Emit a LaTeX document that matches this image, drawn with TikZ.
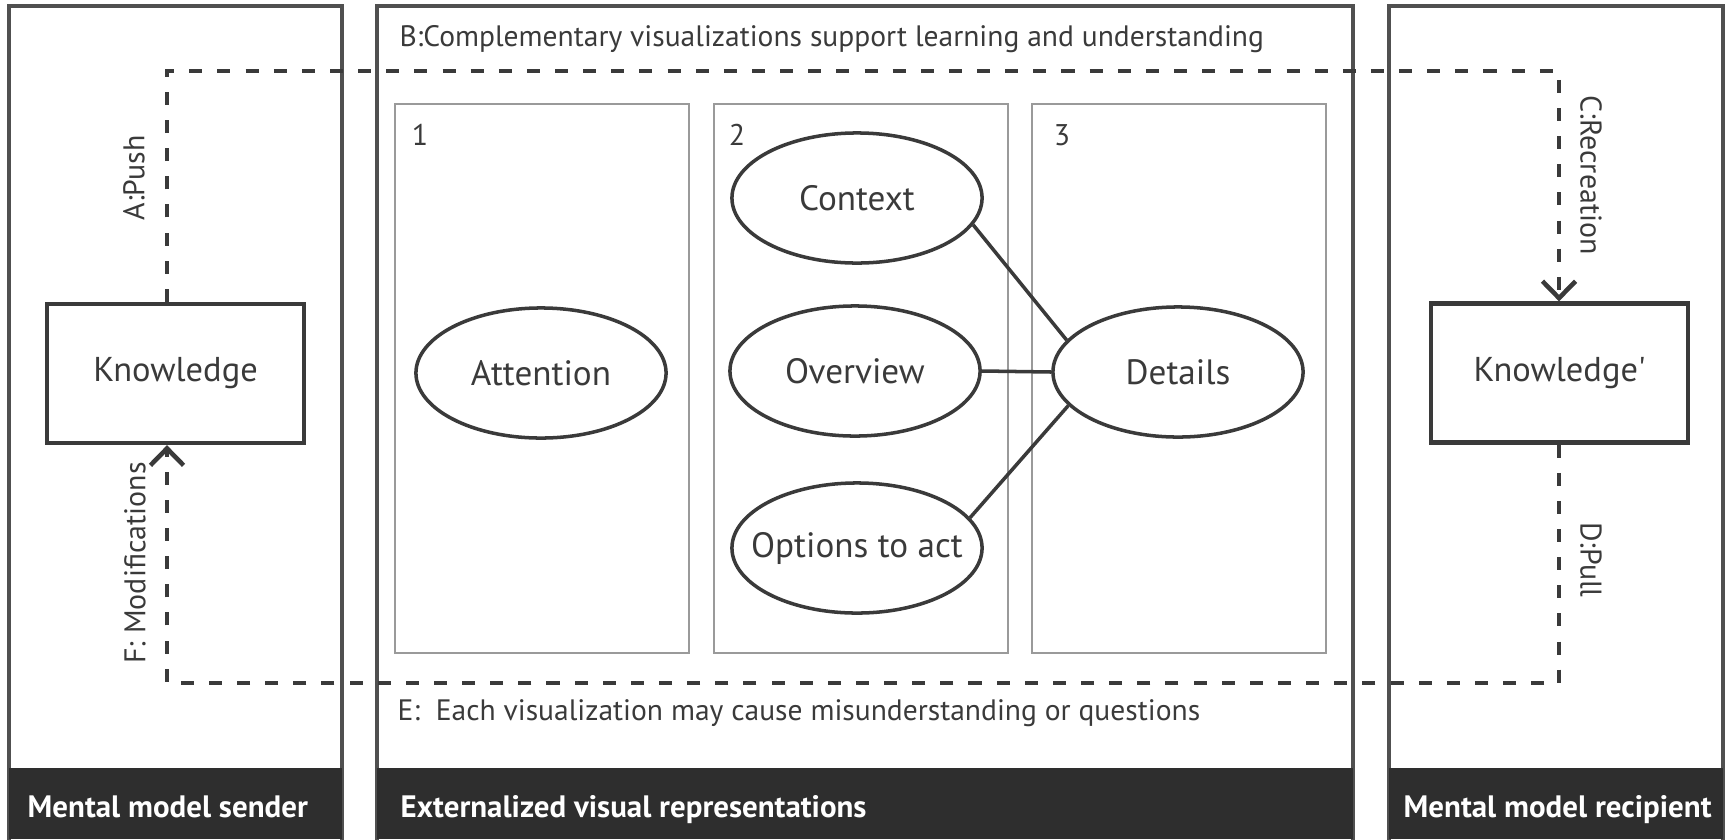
\documentclass[tikz,border=0pt]{standalone}
\usepackage{fontspec}
\setmainfont{PT Sans}
\usetikzlibrary{shapes.geometric, arrows.meta}

\definecolor{ink}{HTML}{3A3A3A}
\definecolor{band}{HTML}{2E2E2E}
\definecolor{frame}{HTML}{505050}
\definecolor{thin}{HTML}{9A9A9A}

\begin{document}
\begin{tikzpicture}[x=0.01cm, y=-0.01cm,
    panel/.style={draw=frame, line width=1pt},
    bandbar/.style={fill=band},
    bandlabel/.style={anchor=base west, text=white, font=\fontsize{8.8}{10}\selectfont\bfseries, inner sep=0pt},
    inner/.style={draw=thin, line width=0.5pt},
    kbox/.style={draw=ink, line width=1.2pt, minimum width=2.57cm, minimum height=1.39cm, text=ink, font=\fontsize{9.8}{12}\selectfont},
    oval/.style={ellipse, draw=ink, line width=1pt, minimum width=2.5cm, minimum height=1.3cm, inner sep=0pt,
      label={[text=ink, font=\fontsize{10}{12}\selectfont]center:#1}},
    note/.style={anchor=base west, text=ink, font=\fontsize{8.4}{10}\selectfont, inner sep=0pt},
    tag/.style={text=ink, font=\fontsize{8.5}{10}\selectfont, inner sep=0pt},
    link/.style={draw=ink, line width=1pt},
    flow/.style={draw=ink, line width=1.3pt, dash pattern=on 3.7pt off 4.3pt},
    >={Straight Barb[length=4.8pt, width=9.4pt]}]
    \useasboundingbox (0,0) rectangle (1728,839);

    % three columns
    \draw [panel] (9,6) rectangle (342,850);
    \draw [panel] (377,6) rectangle (1353,850);
    \draw [panel] (1389,6) rectangle (1723,850);
    \fill [bandbar] (9,768) rectangle (342,839);
    \fill [bandbar] (377,768) rectangle (1353,839);
    \fill [bandbar] (1389,768) rectangle (1723,839);
    \node [bandlabel] (lsender) at (27,817) {Mental model sender};
    \node [bandlabel] (lext) at (400,817) {Externalized visual representations};
    \node [bandlabel] (lrecip) at (1403,817) {Mental model recipient};

    % inner frames
    \draw [inner] (395,104) rectangle (689,653);
    \draw [inner] (714,104) rectangle (1008,653);
    \draw [inner] (1032,104) rectangle (1326,653);
    \node [tag] (n1) at (420,135) {1};
    \node [tag] (n2) at (737,135) {2};
    \node [tag] (n3) at (1062,135) {3};

    \node [note] (bnote) at (399,46) {B:Complementary visualizations support learning and understanding};
    \node [note] (enote) at (397,720) {E:\ \ Each visualization may cause misunderstanding or questions};

    % knowledge boxes
    \node [kbox] (kn) at (175.5,373.5) {Knowledge};
    \node [kbox] (kn2) at (1559.5,373) {Knowledge\textquotesingle};

    % ellipses
    \node [oval=Attention] (att) at (541,373) {};
    \node [oval=Context] (ctx) at (857,198) {};
    \node [oval=Overview] (ov) at (855,371) {};
    \node [oval=Options to act] (opt) at (857,548) {};
    \node [oval=Details] (det) at (1178,372) {};
    \draw [link] (ctx.-13) -- (det.164);
    \draw [link] (ov.east) -- (det.west);
    \draw [link] (opt.15) -- (det.197);

    % dashed loop
    \coordinate (tl) at (167,71);
    \coordinate (tr) at (1559,71);
    \coordinate (bl) at (167,683);
    \coordinate (br) at (1559,683);
    \draw [flow, ->] (tl |- kn.north) -- (tl) -- (tr) -- (tr |- kn2.north);
    \draw [flow, ->] (br |- kn2.south) -- (br) -- (bl) -- (bl |- kn.south);
    \node [tag, rotate=90] (la) at (134,178) {A:Push};
    \node [tag, rotate=90] (lf) at (135,563) {F: Modifications};
    \node [tag, rotate=-90] (lc) at (1591,175) {C:Recreation};
    \node [tag, rotate=-90] (ld) at (1591,560) {D:Pull};
\end{tikzpicture}
\end{document}
